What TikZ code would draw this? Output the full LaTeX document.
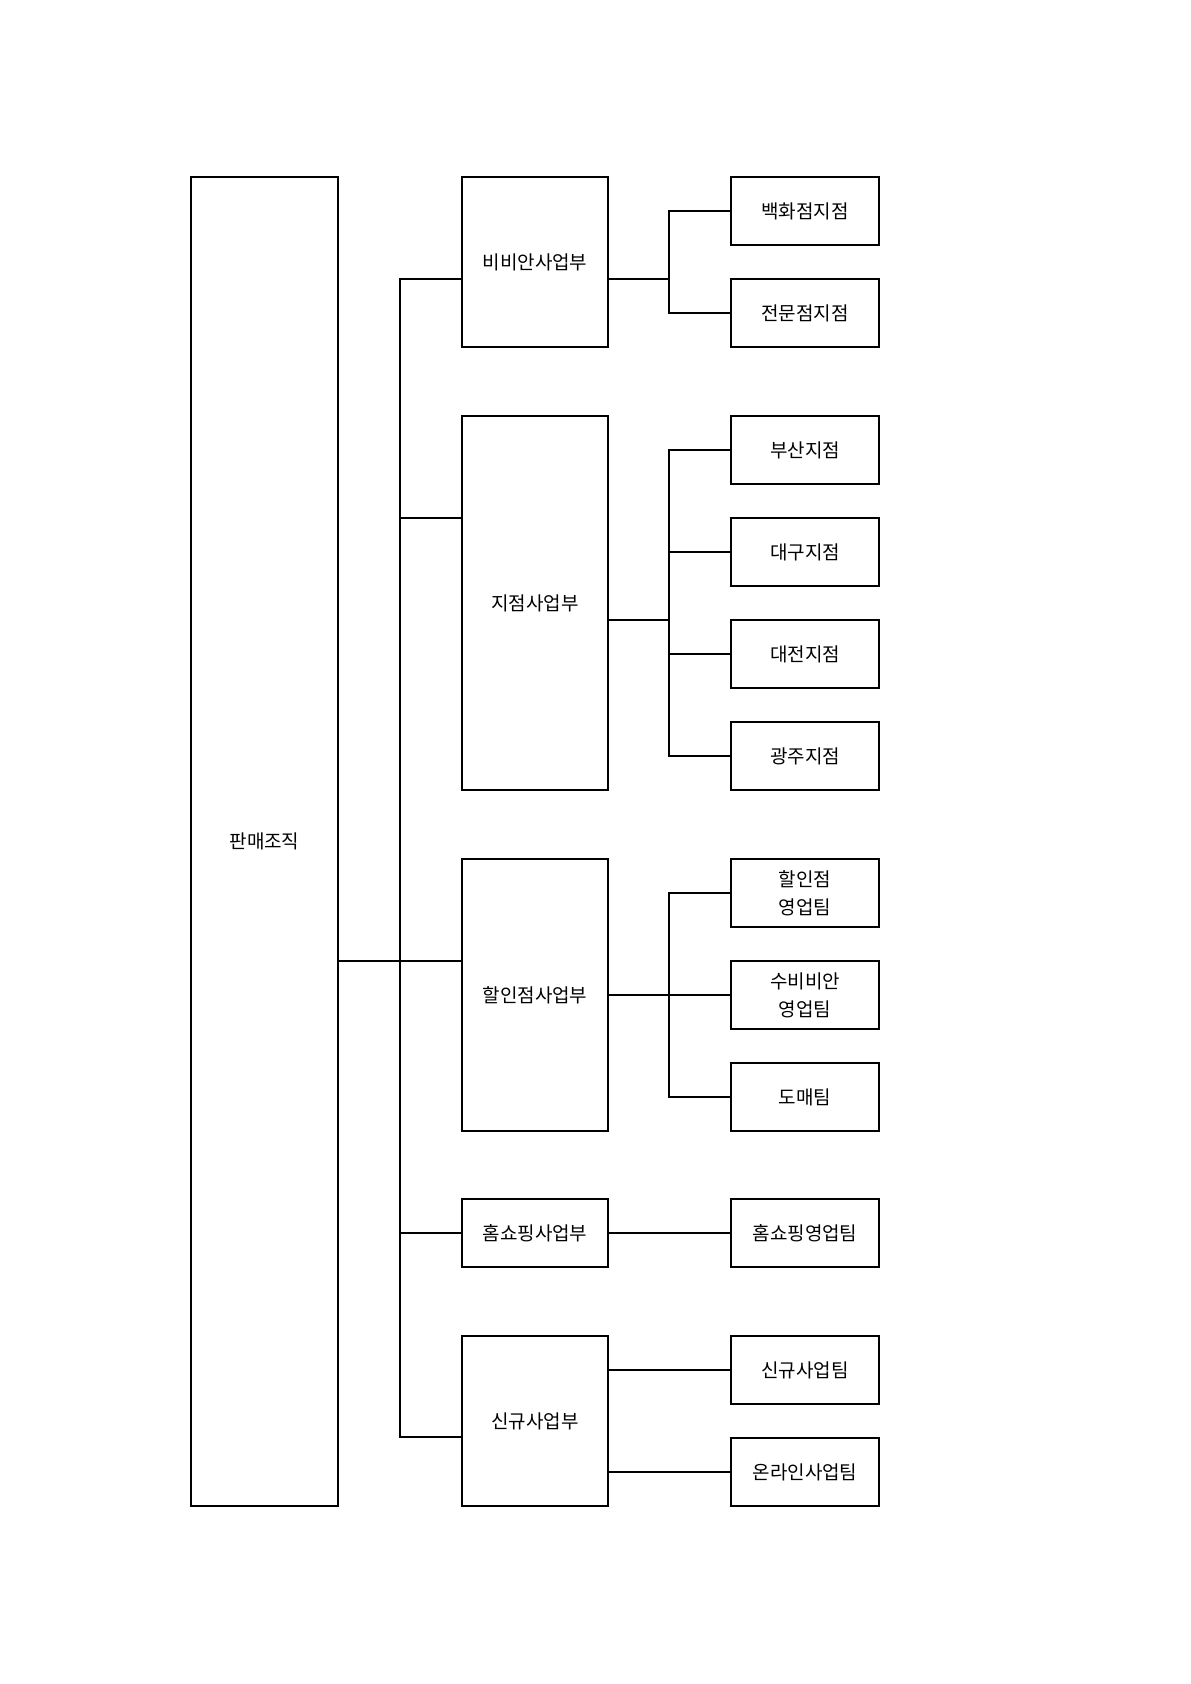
\documentclass[tikz,border=0pt]{standalone}
\usepackage{fontspec}
\newfontfamily\kr{Noto Sans CJK KR}
\begin{document}
\begin{tikzpicture}[x=1pt,y=-1pt,
  box/.style={draw, line width=2pt, inner sep=0pt, align=center,
    font=\kr\fontsize{19}{28}\selectfont},
  mbox/.style={box, minimum width=146pt},
  rbox/.style={box, minimum width=148pt, minimum height=68pt},
  conn/.style={line width=1.8pt}]
\useasboundingbox (0,0) rectangle (1191,1684);
\fill[white] (0,0) rectangle (1191,1684);
% left
\node[box, minimum width=147pt, minimum height=1329pt] (L) at (264.5,841.5) {판매조직};
% middle
\node[mbox, minimum height=170pt] (m1) at (535,262) {비비안사업부};
\node[mbox, minimum height=374pt] (m2) at (535,603) {지점사업부};
\node[mbox, minimum height=272pt] (m3) at (535,995) {할인점사업부};
\node[mbox, minimum height=68pt] (m4) at (535,1233) {홈쇼핑사업부};
\node[mbox, minimum height=170pt] (m5) at (535,1421) {신규사업부};
% right
\node[rbox] (r1) at (805,211) {백화점지점};
\node[rbox] (r2) at (805,313) {전문점지점};
\node[rbox] (r3) at (805,450) {부산지점};
\node[rbox] (r4) at (805,552) {대구지점};
\node[rbox] (r5) at (805,654) {대전지점};
\node[rbox] (r6) at (805,756) {광주지점};
\node[rbox] (r7) at (805,893) {할인점\\영업팀};
\node[rbox] (r8) at (805,995) {수비비안\\영업팀};
\node[rbox] (r9) at (805,1097) {도매팀};
\node[rbox] (r10) at (805,1233) {홈쇼핑영업팀};
\node[rbox] (r11) at (805,1370) {신규사업팀};
\node[rbox] (r12) at (805,1472) {온라인사업팀};
% main bus
\coordinate (j0) at (400,961);
\coordinate (bt) at (400,279);
\coordinate (b2) at (400,518);
\coordinate (bb) at (400,1437);
\draw[conn] (j0 -| L.east) -- (j0 -| m3.west);
\draw[conn] (bt -| m1.west) -- (bt) -- (bb) -- (bb -| m5.west);
\draw[conn] (b2) -- (b2 -| m2.west);
\draw[conn] (m4.west -| bt) -- (m4.west);
% sub buses
\coordinate (s1) at (669,279);
\coordinate (s2) at (669,620);
\coordinate (s3) at (669,995);
\draw[conn] (m1.east |- s1) -- (s1);
\draw[conn] (r1.west) -| (s1) |- (r2.west);
\draw[conn] (m2.east |- s2) -- (s2);
\draw[conn] (r3.west) -| (s2) |- (r6.west);
\draw[conn] (r4.west) -- (r4.west -| s2);
\draw[conn] (r5.west) -- (r5.west -| s2);
\draw[conn] (m3.east) -- (r8.west);
\draw[conn] (r7.west) -| (s3) |- (r9.west);
\draw[conn] (m4.east) -- (r10.west);
\draw[conn] (r11.west -| m5.east) -- (r11.west);
\draw[conn] (r12.west -| m5.east) -- (r12.west);
\end{tikzpicture}
\end{document}
